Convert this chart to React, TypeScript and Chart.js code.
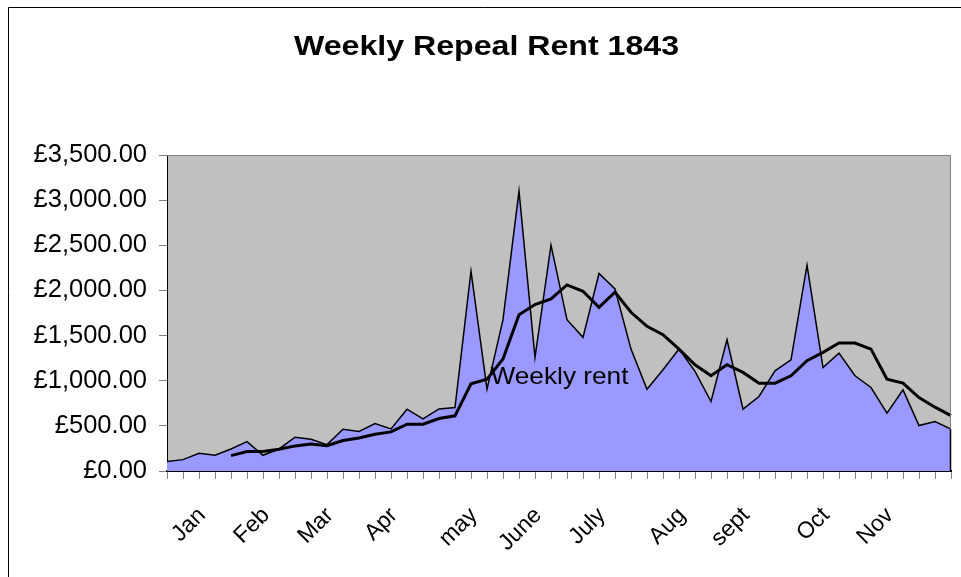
import React, { useEffect, useRef } from 'react';
import { Chart, registerables } from 'chart.js';

Chart.register(...registerables);

// ---- data ----
const weeklyRent: number[] = [
  105, 126, 196, 174, 244, 326, 174, 244, 374, 352,
  292, 463, 437, 525, 466, 685, 577, 688, 703, 2213,
  906, 1676, 3100, 1258, 2501, 1676, 1480, 2187, 2016, 1350,
  906, 1121, 1350, 1103, 770, 1454, 685, 825, 1110, 1232,
  2279, 1147, 1306, 1055, 925, 640, 899, 503, 548, 463,
];

const movingAverage: (number | null)[] = [
  null, null, null, null, 170, 215, 215, 240, 278, 300,
  281, 337, 366, 407, 433, 518, 518, 581, 611, 966,
  1018, 1240, 1732, 1843, 1906, 2061, 1991, 1813, 1980, 1758,
  1602, 1510, 1350, 1177, 1055, 1177, 1092, 973, 973, 1055,
  1221, 1314, 1417, 1417, 1350, 1018, 973, 814, 707, 614,
];

const monthNames: string[] = ['Jan', 'Feb', 'Mar', 'Apr', 'may', 'June', 'July', 'Aug', 'sept', 'Oct', 'Nov'];
const monthWeeks: number[] = [2, 6, 10, 14, 19, 23, 27, 32, 36, 41, 45];

const yTicks: number[] = [0, 500, 1000, 1500, 2000, 2500, 3000, 3500];

const TITLE = 'Weekly Repeal Rent 1843';
const SERIES_LABEL = 'Weekly rent';
const LABEL_WEEK = 20;

const categories: string[] = weeklyRent.map((_, i) => {
  const m = monthWeeks.indexOf(i);
  return m >= 0 ? monthNames[m] : '';
});

const FONT = "'Liberation Sans', Arial, Helvetica, sans-serif";

function formatPounds(v: number): string {
  const fixed = Math.abs(v).toFixed(2);
  const [intPart, dec] = fixed.split('.');
  const withCommas = intPart.replace(/\B(?=(\d{3})+(?!\d))/g, ',');
  return '£' + withCommas + '.' + dec;
}

const chromePlugin = {
  id: 'chrome',
  beforeDraw(chart: any) {
    const { ctx, chartArea: a } = chart;
    ctx.save();
    ctx.fillStyle = '#ffffff';
    ctx.fillRect(0, 0, chart.width, chart.height);
    ctx.fillStyle = '#C0C0C0';
    ctx.fillRect(a.left, a.top, a.right - a.left, a.bottom - a.top);
    ctx.strokeStyle = '#000000';
    ctx.lineWidth = 1;
    ctx.beginPath();
    ctx.moveTo(8.5, chart.height);
    ctx.lineTo(8.5, 7.5);
    ctx.lineTo(chart.width, 7.5);
    ctx.stroke();
    ctx.restore();
  },
  afterDraw(chart: any) {
    const { ctx, chartArea: a } = chart;
    const xs = chart.scales.x;
    const ys = chart.scales.y;
    ctx.save();
    // plot-area frame (top & right)
    ctx.strokeStyle = '#808080';
    ctx.lineWidth = 1;
    ctx.beginPath();
    ctx.moveTo(a.left, a.top + 0.5);
    ctx.lineTo(a.right - 0.5, a.top + 0.5);
    ctx.lineTo(a.right - 0.5, a.bottom);
    ctx.stroke();
    // closing right edge of the area series
    const last = weeklyRent.length - 1;
    const xr = xs.getPixelForValue(last);
    ctx.strokeStyle = '#000000';
    ctx.lineWidth = 1.5;
    ctx.beginPath();
    ctx.moveTo(xr - 0.5, ys.getPixelForValue(weeklyRent[last]));
    ctx.lineTo(xr - 0.5, ys.getPixelForValue(0));
    ctx.stroke();

    // title
    ctx.fillStyle = '#000000';
    ctx.textBaseline = 'alphabetic';
    ctx.textAlign = 'left';
    ctx.font = 'bold 28px ' + FONT;
    const tw = ctx.measureText(TITLE).width;
    const targetW = 385;
    ctx.save();
    ctx.translate(486.5 - targetW / 2, 54.5);
    ctx.scale(targetW / tw, 1);
    ctx.fillText(TITLE, 0, 0);
    ctx.restore();

    // series label inside the plot
    ctx.font = '24px ' + FONT;
    const lw = ctx.measureText(SERIES_LABEL).width;
    const targetL = 138;
    const lx = xs.getPixelForValue(LABEL_WEEK) + 3.5;
    const ly = ys.getPixelForValue(weeklyRent[LABEL_WEEK]) - 5;
    ctx.save();
    ctx.translate(lx, ly);
    ctx.scale(targetL / lw, 1);
    ctx.fillText(SERIES_LABEL, 0, 0);
    ctx.restore();
    ctx.restore();
  },
};

export default function App() {
  const canvasRef = useRef<HTMLCanvasElement | null>(null);

  useEffect(() => {
    const canvas = canvasRef.current;
    if (!canvas) return;
    const chart = new Chart(canvas, {
      type: 'line',
      data: {
        labels: categories,
        datasets: [
          {
            label: 'Moving average',
            data: movingAverage,
            borderColor: '#000000',
            borderWidth: 3,
            fill: false,
            pointRadius: 0,
            tension: 0,
            spanGaps: false,
            order: 0,
          },
          {
            label: SERIES_LABEL,
            data: weeklyRent,
            borderColor: '#000000',
            borderWidth: 1.5,
            backgroundColor: '#9999FF',
            fill: 'origin',
            pointRadius: 0,
            tension: 0,
            order: 1,
          },
        ],
      },
      options: {
        responsive: false,
        devicePixelRatio: 1,
        animation: false,
        events: [],
        layout: { padding: { top: 155, right: 10, bottom: 0, left: 0 } },
        plugins: {
          legend: { display: false },
          tooltip: { enabled: false },
          title: { display: false },
        },
        scales: {
          x: {
            type: 'category',
            offset: false,
            grid: {
              display: true,
              drawOnChartArea: false,
              drawTicks: true,
              tickLength: 8,
              color: '#808080',
              lineWidth: 1,
              offset: false,
            },
            border: { display: true, color: '#000000', width: 2 },
            ticks: {
              autoSkip: false,
              minRotation: 45,
              maxRotation: 45,
              padding: 23,
              labelOffset: 3,
              color: '#000000',
              font: { family: FONT, size: 23 },
            },
            afterFit: (s: any) => {
              s.height = 106;
              s.paddingLeft = 0;
              s.paddingRight = 0;
            },
          },
          y: {
            type: 'linear',
            min: 0,
            max: 3500,
            afterBuildTicks: (s: any) => {
              s.ticks = yTicks.map((v) => ({ value: v }));
            },
            grid: {
              display: true,
              drawOnChartArea: false,
              drawTicks: true,
              tickLength: 8,
              color: '#808080',
              lineWidth: 1,
            },
            border: { display: true, color: '#000000', width: 1 },
            ticks: {
              padding: 12,
              color: '#000000',
              font: { family: FONT, size: 25.5 },
              callback: (v: any) => formatPounds(Number(v)),
            },
            afterFit: (s: any) => {
              s.width = 167;
            },
          },
        },
      },
      plugins: [chromePlugin],
    } as any);
    return () => {
      chart.destroy();
    };
  }, []);

  return (
    <div
      style={{
        position: 'fixed',
        left: 0,
        top: 0,
        width: 961,
        height: 577,
        overflow: 'hidden',
        background: '#ffffff',
      }}
    >
      <canvas ref={canvasRef} width={961} height={577} style={{ display: 'block' }} />
    </div>
  );
}
